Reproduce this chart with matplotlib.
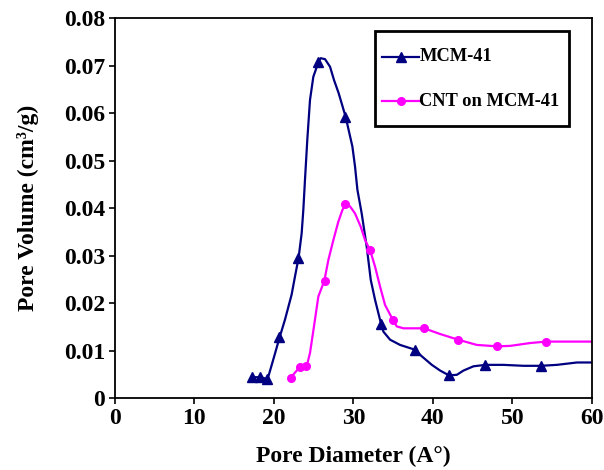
import matplotlib.pyplot as plt
from matplotlib.lines import Line2D
from matplotlib.patches import Rectangle

plt.switch_backend('Agg')

# MCM-41: measured points (triangles)
mcm_x = [17.3, 18.3, 19.2, 20.7, 23.1, 25.6, 29.0, 33.5, 37.7, 42.0, 46.6, 53.6]
mcm_y = [0.0044, 0.0044, 0.0040, 0.0128, 0.0296, 0.0709, 0.0592, 0.0156, 0.0102, 0.0048, 0.0070, 0.0068]

# MCM-41: smoothed curve
mcm_curve_x = [17.29, 18.30, 19.22, 19.93, 20.73, 21.40, 22.24, 22.66, 23.12, 23.50, 23.71,
               23.92, 24.21, 24.55, 24.97, 25.64, 25.89, 26.44, 27.07, 27.57, 28.16, 29.04,
               29.88, 30.21, 30.51, 31.05, 31.68, 32.19, 32.73, 33.49, 33.78, 34.62, 35.88,
               37.73, 38.61, 39.87, 40.91, 42.01, 43.01, 43.85, 45.11, 46.62, 48.89, 51.41,
               53.59, 55.60, 58.12, 60.0]
mcm_curve_y = [0.0044, 0.0044, 0.0040, 0.0081, 0.0128, 0.0165, 0.0218, 0.0256, 0.0296, 0.0347, 0.0396,
               0.0460, 0.0544, 0.0628, 0.0677, 0.0709, 0.0716, 0.0714, 0.0698, 0.0670, 0.0642, 0.0592,
               0.0530, 0.0488, 0.0439, 0.0389, 0.0319, 0.0249, 0.0207, 0.0156, 0.0140, 0.0123, 0.0112,
               0.0102, 0.0088, 0.0070, 0.0058, 0.0048, 0.0049, 0.0058, 0.0067, 0.0070, 0.0070, 0.0068,
               0.0068, 0.0070, 0.0075, 0.0075]

# CNT on MCM-41: measured points (circles)
cnt_x = [22.1, 23.3, 24.1, 26.4, 29.0, 32.1, 35.0, 38.9, 43.2, 48.1, 54.2]
cnt_y = [0.0042, 0.0065, 0.0067, 0.0247, 0.0408, 0.0312, 0.0164, 0.0147, 0.0123, 0.0109, 0.0119]

cnt_curve_x = [22.07, 23.25, 24.13, 24.55, 25.05, 25.60, 26.35, 26.86, 27.49, 28.12, 28.62, 29.04,
               29.58, 30.21, 30.93, 31.47, 32.10, 32.73, 33.36, 33.99, 35.00, 35.46, 36.30, 38.90,
               40.91, 43.18, 45.53, 48.09, 49.73, 52.25, 54.22, 60.0]
cnt_curve_y = [0.0042, 0.0065, 0.0067, 0.0095, 0.0151, 0.0214, 0.0247, 0.0291, 0.0333, 0.0372, 0.0396, 0.0408,
               0.0404, 0.0389, 0.0361, 0.0333, 0.0312, 0.0277, 0.0235, 0.0196, 0.0164, 0.0151, 0.0147, 0.0147,
               0.0135, 0.0123, 0.0112, 0.0109, 0.0110, 0.0116, 0.0119, 0.0119]

series_names = ['MCM-41', 'CNT on MCM-41']

plt.rcParams['font.family'] = ['Liberation Serif', 'DejaVu Serif']
plt.rcParams['font.weight'] = 'bold'

navy = '#000080'
pink = '#FF00FF'

fig = plt.figure(figsize=(6.04, 4.70), dpi=100)
ax = fig.add_axes([0.190, 0.153, 0.790, 0.808])

ax.plot(mcm_curve_x, mcm_curve_y, color=navy, lw=1.6, zorder=2)
ax.plot(mcm_x, mcm_y, ls='none', marker='^', ms=7.5, color=navy, zorder=3)
ax.plot(cnt_curve_x, cnt_curve_y, color=pink, lw=1.6, zorder=2)
ax.plot(cnt_x, cnt_y, ls='none', marker='o', ms=5.5, color=pink, zorder=3)

ax.set_xlim(0, 60)
ax.set_ylim(0, 0.08)
ax.set_xticks(range(0, 61, 10))
ax.set_yticks([0, 0.01, 0.02, 0.03, 0.04, 0.05, 0.06, 0.07, 0.08])
ax.set_yticklabels(['0', '0.01', '0.02', '0.03', '0.04', '0.05', '0.06', '0.07', '0.08'])
ax.tick_params(direction='out', length=4, width=1.2, labelsize=17, pad=3)
for s in ax.spines.values():
    s.set_linewidth(1.3)

ax.set_xlabel('Pore Diameter (A°)', fontsize=17, fontweight='bold', labelpad=12)
ax.set_ylabel('Pore Volume (cm³/g)', fontsize=17, fontweight='bold', labelpad=18)

# legend box drawn by hand (axes coordinates)
ax.add_patch(Rectangle((0.545, 0.717), 0.407, 0.250, transform=ax.transAxes,
                       facecolor='white', edgecolor='black', lw=2, zorder=5))
rows = [(0.899, navy, '^', 7.5), (0.782, pink, 'o', 5.5)]
for (yy, col, mk, ms), name in zip(rows, series_names):
    ax.add_line(Line2D([0.560, 0.638], [yy, yy], transform=ax.transAxes, color=col, lw=1.6, zorder=6))
    ax.add_line(Line2D([0.599], [yy], transform=ax.transAxes, color=col, marker=mk, ms=ms, zorder=6))
    ax.text(0.638, yy, name, transform=ax.transAxes, fontsize=13.3, fontweight='bold',
            va='center', ha='left', zorder=7)

plt.savefig('out.png', dpi=100)
plt.close()
